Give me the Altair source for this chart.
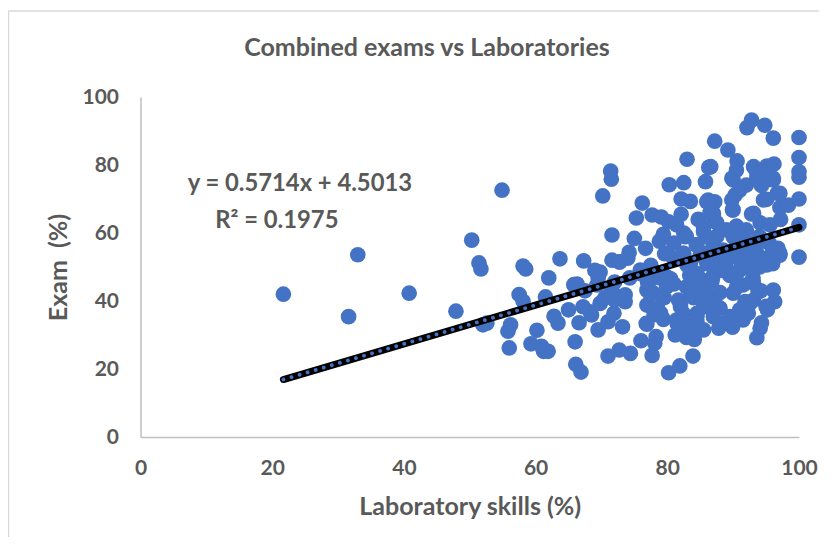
import altair as alt
import pandas as pd

lab = [21.7,31.6,33.0,40.8,47.9,50.3,51.4,51.7,52.0,52.6,54.9,55.8,56.0,56.2,57.5,58.1,58.1,58.5,59.3,60.2,
60.9,61.2,61.9,61.5,62.0,62.8,63.4,63.7,65.0,65.8,66.0,66.1,66.3,66.6,66.9,67.2,67.3,67.5,68.5,69.0,
69.3,69.5,69.8,69.8,70.2,71.0,71.0,71.3,71.4,71.5,71.6,71.6,71.6,71.9,72.0,72.7,72.7,72.8,73.2,73.6,
74.2,74.4,75.0,75.3,76.0,76.2,76.7,76.9,76.9,76.9,77.7,77.7,77.9,78.1,78.3,78.8,79.1,79.4,79.4,79.6,
79.9,80.2,80.2,80.3,81.2,81.4,81.4,81.7,81.9,82.1,82.1,82.4,82.4,82.5,82.7,82.9,82.9,82.9,83.0,83.4,
83.5,83.9,84.1,84.5,84.5,84.5,84.5,84.7,85.0,85.5,85.5,85.5,85.8,86.2,86.3,86.5,86.5,86.6,86.7,87.0,
87.0,87.0,87.2,87.2,87.2,87.8,88.0,88.9,89.0,89.2,89.5,89.8,89.8,89.9,89.9,90.0,90.0,90.3,90.5,90.5,
90.6,91.0,91.5,91.5,91.8,92.0,92.0,92.1,92.3,92.8,92.8,93.1,93.1,93.1,93.6,93.6,93.6,93.8,94.1,94.1,
94.3,94.3,94.8,95.1,95.1,95.1,95.1,95.2,95.5,95.6,96.1,96.1,96.1,96.2,96.3,96.7,96.8,97.1,97.1,97.1,
97.2,98.4,100,100,100,100,100,100,100,
76.0,77.5,78.5,80.0,81.0,82.0,83.5,84.0,85.0,86.0,87.5,88.0,88.5,89.5,90.5,91.0,92.0,93.0,94.0,94.5,95.5,
78.0,79.5,81.0,82.5,83.5,85.0,86.0,87.0,88.5,89.5,90.0,91.5,92.5,94.0,95.0,96.0,80.5,83.0,85.5,88.0,90.5,93.0,
90.0,93.6,96.1,91.0,97.1,94.6,93.1,90.0,86.0,87.0,85.5,87.5,90.5,82.9,84.4,87.5,91.0,94.0,96.0,95.0,92.5,89.0,
86.0,82.5,80.0,79.7,77.4,77.4,81.0,84.0,86.8,90.5,93.0,94.2,83.6,82.0,79.0,86.8,84.5,91.0,88.0,81.5,84.0,76.8,92.6,95.0,
68.3,69.5,70.5,72.0,74.3,75.9,77.0,73.6,74.0,78.9]
exam = [42.0,35.4,53.6,42.3,37.0,57.9,51.2,49.4,33.0,33.5,72.6,31.1,26.2,33.0,41.9,39.9,50.3,49.4,27.4,31.4,
26.7,25.2,25.2,41.2,46.8,35.5,33.5,52.4,37.4,44.8,28.0,21.4,45.0,33.6,19.1,38.3,51.8,43.0,35.9,49.0,
44.7,31.5,39.3,48.5,70.9,33.9,23.8,42.3,78.2,75.8,59.4,52.0,43.0,36.4,40.3,25.6,51.5,51.5,32.4,39.8,
54.3,24.6,58.4,64.4,28.3,68.8,55.5,33.2,38.8,43.2,24.0,65.3,42.3,27.6,29.5,57.6,64.7,34.6,59.6,53.9,
44.2,18.9,63.3,74.2,30.0,34.4,62.4,40.3,20.9,70.0,65.5,36.4,54.0,74.8,58.9,44.2,32.9,29.3,81.7,47.6,
69.3,23.8,28.7,33.9,36.4,48.1,56.5,64.0,44.7,31.5,38.3,60.4,75.1,69.7,79.3,66.0,58.4,79.5,45.7,47.6,
35.4,65.0,39.8,69.2,87.0,32.0,37.9,50.0,60.9,84.4,35.4,69.7,76.1,66.8,32.3,42.3,58.9,71.2,61.9,78.5,
81.2,49.1,34.4,44.7,39.8,60.9,74.1,91.0,36.4,93.2,65.6,40.3,45.2,79.5,29.2,54.0,76.2,42.7,32.0,63.0,
33.6,74.0,91.7,50.6,69.9,75.6,79.7,37.4,53.0,62.4,43.2,76.1,87.9,80.3,39.8,71.7,55.5,53.5,54.0,67.5,
64.0,68.2,52.9,62.4,70.0,76.4,78.0,82.2,88.1,
48.0,50.5,38.0,47.0,52.5,39.0,51.0,41.0,53.5,42.0,52.0,42.5,55.0,47.5,55.5,52.0,57.5,56.5,58.0,51.5,57.0,
36.0,41.0,57.0,60.0,49.5,42.0,54.0,56.0,49.0,53.5,55.0,54.5,52.5,50.0,57.5,51.0,46.5,50.5,46.0,51.0,48.0,46.0,
75.6,77.5,75.6,72.6,71.7,69.7,65.8,66.8,69.2,65.8,61.8,63.0,62.0,59.0,56.5,59.0,58.0,59.0,55.0,51.0,50.0,52.0,
51.0,54.0,54.0,47.0,46.2,42.2,45.0,47.0,46.0,44.0,47.0,43.0,42.0,38.3,36.4,39.4,35.4,37.4,33.4,33.4,31.5,33.4,39.4,38.4,
36.8,46.8,40.9,45.6,46.8,49.1,45.6,41.8,52.6,46.8]

lab = lab[:len(exam)]
trend_x = [21.7, 100]
slope = 0.5714
intercept = 4.5013
trend_y = [slope * v + intercept for v in trend_x]

title_text = ["Combined exams vs Laboratories"]
title_x = [43.5]
title_y = [114.4]
eq_text = ["y = 0.5714x + 4.5013", "R² = 0.1975"]
eq_x = [24.2, 20.7]
eq_y = [74.4, 63.5]

FONT = "Lato"
GREY = "#595959"
BLUE = "#4472C4"

points = pd.DataFrame({"lab": lab, "exam": exam})
trend = pd.DataFrame({"lab": trend_x, "exam": trend_y})
eq = pd.DataFrame({"lab": eq_x, "exam": eq_y, "t": eq_text})
head = pd.DataFrame({"lab": title_x, "exam": title_y, "t": title_text})

xs = alt.Scale(domain=[0, 100], nice=False)
ys = alt.Scale(domain=[0, 100], nice=False)

base_x = alt.X("lab:Q", scale=xs, title="Laboratory skills (%)",
               axis=alt.Axis(values=[0, 20, 40, 60, 80, 100], grid=False, ticks=False, labelFlush=False,
                             domainColor="#BFBFBF", domainWidth=1.5, labelFont=FONT, labelFontSize=21,
                             labelFontWeight="bold", labelColor=GREY, labelPadding=20,
                             titleFont=FONT, titleFontSize=25, titleFontWeight="bold", titleColor=GREY,
                             titlePadding=16))
base_y = alt.Y("exam:Q", scale=ys, title="Exam \u00a0(%)",
               axis=alt.Axis(values=[0, 20, 40, 60, 80, 100], grid=False, ticks=False, labelFlush=False,
                             domainColor="#BFBFBF", domainWidth=1.5, labelFont=FONT, labelFontSize=21,
                             labelFontWeight="bold", labelColor=GREY, labelPadding=22,
                             titleFont=FONT, titleFontSize=25, titleFontWeight="bold", titleColor=GREY,
                             titlePadding=10))

scatter = alt.Chart(points).mark_circle(size=245, color=BLUE, opacity=1, clip=False).encode(x=base_x, y=base_y)
line_back = alt.Chart(trend).mark_line(color="black", strokeWidth=7, strokeCap="round").encode(x="lab:Q", y="exam:Q")
line_dots = alt.Chart(trend).mark_line(color=BLUE, strokeWidth=3.8, strokeCap="round",
                                       strokeDash=[0.1, 8.3]).encode(x="lab:Q", y="exam:Q")
labels = alt.Chart(eq).mark_text(font=FONT, fontSize=23.8, fontWeight="bold", color=GREY).encode(
    x="lab:Q", y="exam:Q", text="t:N")
heading = alt.Chart(head).mark_text(font=FONT, fontSize=25, fontWeight="bold", color=GREY).encode(
    x="lab:Q", y="exam:Q", text="t:N")

frame_v = alt.Chart(pd.DataFrame({"a": [0]})).mark_rule(color="#D9D9D9", strokeWidth=1.5, clip=False).encode(
    x=alt.value(-132), y=alt.value(-86), y2=alt.value(449))
frame_h = alt.Chart(pd.DataFrame({"a": [0]})).mark_rule(color="#D9D9D9", strokeWidth=1.5, clip=False).encode(
    x=alt.value(-132), x2=alt.value(692), y=alt.value(-86))

chart = (scatter + line_back + line_dots + labels + heading + frame_v + frame_h).properties(
    width=658.5, height=340,
    padding={"left": 132.5, "top": 89, "right": 20, "bottom": 100},
    autosize=alt.AutoSizeParams(type="none"),
).configure_view(stroke=None)

chart.save("out.html", embed_options={"renderer": "svg", "actions": False})
